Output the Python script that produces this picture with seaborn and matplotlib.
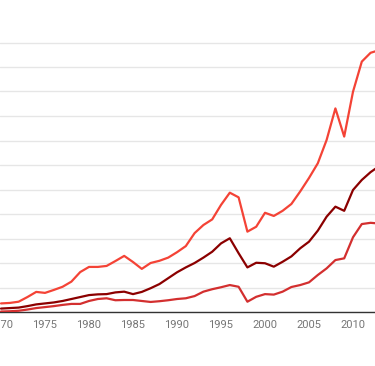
import matplotlib
matplotlib.use("Agg")
import matplotlib.pyplot as plt
import seaborn as sns
import pandas as pd

years = list(range(1970, 2014))

series_top = [3.5, 3.7, 4.2, 6.1, 8.2, 7.8, 9.0, 10.3, 12.4, 16.3,
              18.4, 18.4, 18.8, 20.8, 22.9, 20.4, 17.6, 20.0, 20.9, 22.2,
              24.4, 26.9, 32.2, 35.5, 37.8, 43.7, 48.7, 46.8, 32.8, 34.8,
              40.5, 39.2, 41.3, 44.1, 49.2, 54.7, 60.7, 70.2, 83.1, 71.6,
              89.9, 102.2, 105.8, 106.9]
series_mid = [1.4, 1.6, 1.8, 2.4, 3.1, 3.5, 3.9, 4.5, 5.3, 6.1,
              6.9, 7.2, 7.3, 8.0, 8.3, 7.3, 8.2, 9.7, 11.4, 13.8,
              16.2, 18.2, 20.0, 22.2, 24.6, 28.0, 30.1, 24.0, 18.2, 20.1,
              19.9, 18.5, 20.5, 22.7, 26.0, 28.7, 33.2, 38.9, 43.0, 41.3,
              49.8, 53.9, 57.1, 59.6]
series_low = [0.2, 0.3, 0.5, 1.0, 1.6, 2.0, 2.4, 2.9, 3.3, 3.3,
              4.5, 5.3, 5.6, 4.8, 4.9, 4.9, 4.5, 4.1, 4.4, 4.8,
              5.3, 5.6, 6.5, 8.3, 9.3, 10.1, 11.0, 10.3, 4.2, 6.2,
              7.3, 7.1, 8.3, 10.2, 11.0, 12.1, 15.1, 17.8, 21.2, 21.9,
              30.5, 35.9, 36.4, 36.1]
series_names = ["top", "mid", "low"]
x_ticks = [1970, 1975, 1980, 1985, 1990, 1995, 2000, 2005, 2010]
y_grid = [0, 10, 20, 30, 40, 50, 60, 70, 80, 90, 100, 110]

df = pd.DataFrame({
    "year": years * 3,
    "value": series_top + series_mid + series_low,
    "series": [series_names[0]] * len(years) + [series_names[1]] * len(years) + [series_names[2]] * len(years),
})

sns.set_style("white")
plt.rcParams["font.family"] = ["Roboto", "DejaVu Sans"]

fig = plt.figure(figsize=(3.75, 3.66), dpi=100)
ax = fig.add_axes([0.0, 54 / 366, 1.0, 281.75 / 366])

palette = {"top": "#f44336", "mid": "#8b0000", "low": "#d32f2f"}
sns.lineplot(data=df, x="year", y="value", hue="series", palette=palette,
             linewidth=1.6, legend=False, ax=ax, zorder=3)

ax.set_xlim(1969.886, 2012.5)
ax.set_ylim(0, 115)
ax.set_yticks(y_grid)
ax.set_yticklabels([])
ax.set_xticks(x_ticks)
ax.set_xticklabels([str(t) for t in x_ticks])
ax.tick_params(axis="x", length=0, pad=6, labelsize=8, labelcolor="#757575")
ax.tick_params(axis="y", length=0)
ax.grid(axis="y", color="#e6e6e6", linewidth=1.0, zorder=0)
ax.grid(axis="x", visible=False)
for s in ["top", "right", "left"]:
    ax.spines[s].set_visible(False)
ax.spines["bottom"].set_color("#333333")
ax.spines["bottom"].set_linewidth(1.0)
ax.set_xlabel("")
ax.set_ylabel("")

fig.savefig("out.png", dpi=100)
